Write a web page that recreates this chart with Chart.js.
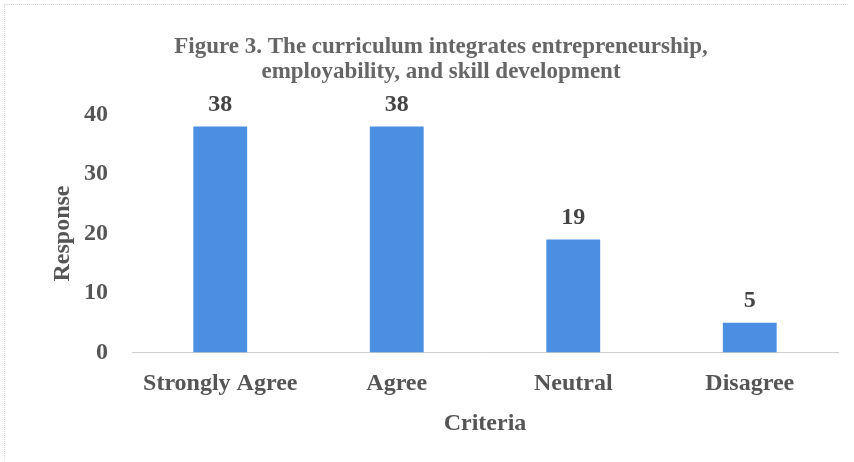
<!DOCTYPE html>
<html>
<head>
<meta charset="utf-8">
<script src="https://cdn.jsdelivr.net/npm/chart.js@4/dist/chart.umd.min.js"></script>
<style>
html,body{margin:0;padding:0;background:#fff;}
#wrap{position:relative;width:854px;height:462px;}
#frame{position:absolute;left:4px;top:4px;width:844px;height:456px;border-left:1px dotted #d8d8d8;border-top:1px dotted #d8d8d8;box-sizing:border-box;pointer-events:none;}
</style>
</head>
<body>
<div id="wrap">
<canvas id="c" width="854" height="462"></canvas>
<div id="frame"></div>
</div>
<script>
const categories = ["Strongly Agree", "Agree", "Neutral", "Disagree"];
const responses = [38, 38, 19, 5];
const yTicks = [0, 10, 20, 30, 40];
const titleLines = ["Figure 3. The curriculum integrates entrepreneurship,", "employability, and skill development"];
const xTitle = "Criteria";
const yTitle = "Response";

const SERIF = "'Liberation Serif', 'Times New Roman', serif";
const TXT = "#555555";

const valueLabels = {
  id: 'valueLabels',
  afterDatasetsDraw(chart) {
    const ctx = chart.ctx;
    const meta = chart.getDatasetMeta(0);
    ctx.save();
    ctx.font = "bold 24px " + SERIF;
    ctx.fillStyle = "#444444";
    ctx.textAlign = "center";
    ctx.textBaseline = "middle";
    meta.data.forEach((bar, i) => {
      ctx.fillText(String(chart.data.datasets[0].data[i]), bar.x, bar.y - 22);
    });
    ctx.restore();
  }
};

new Chart(document.getElementById('c'), {
  type: 'bar',
  data: {
    labels: categories,
    datasets: [{
      data: responses,
      backgroundColor: '#4a8fe2',
      borderWidth: 0,
      barPercentage: 0.305,
      categoryPercentage: 1.0
    }]
  },
  options: {
    responsive: false,
    animation: false,
    layout: { padding: { left: 44, right: 16, top: 0, bottom: 24 } },
    plugins: {
      legend: { display: false },
      tooltip: { enabled: false },
      title: {
        display: true,
        text: titleLines,
        color: '#666666',
        font: { family: SERIF, size: 23, weight: 'bold', lineHeight: 1.1 },
        padding: { top: 34, bottom: 30 }
      }
    },
    scales: {
      x: {
        offset: true,
        grid: { display: false, drawTicks: false },
        border: { display: true, color: '#cfcfcf', dash: [2, 2], width: 1 },
        ticks: {
          color: TXT,
          padding: 17,
          font: { family: SERIF, size: 24, weight: 'bold' }
        },
        title: {
          display: true,
          text: xTitle,
          color: TXT,
          font: { family: SERIF, size: 24, weight: 'bold' },
          padding: { top: -6, bottom: 0 }
        }
      },
      y: {
        min: 0,
        max: 40,
        afterBuildTicks(scale) { scale.ticks = yTicks.map(v => ({ value: v })); },
        afterFit(scale) { scale.width = 88; },
        grid: { display: false, drawTicks: false },
        border: { display: false },
        ticks: {
          color: TXT,
          padding: 24,
          font: { family: SERIF, size: 24, weight: 'bold' }
        },
        title: {
          display: true,
          text: yTitle,
          color: TXT,
          font: { family: SERIF, size: 24, weight: 'bold' },
          padding: { top: 4, bottom: 0 }
        }
      }
    }
  },
  plugins: [valueLabels]
});
</script>
</body>
</html>
